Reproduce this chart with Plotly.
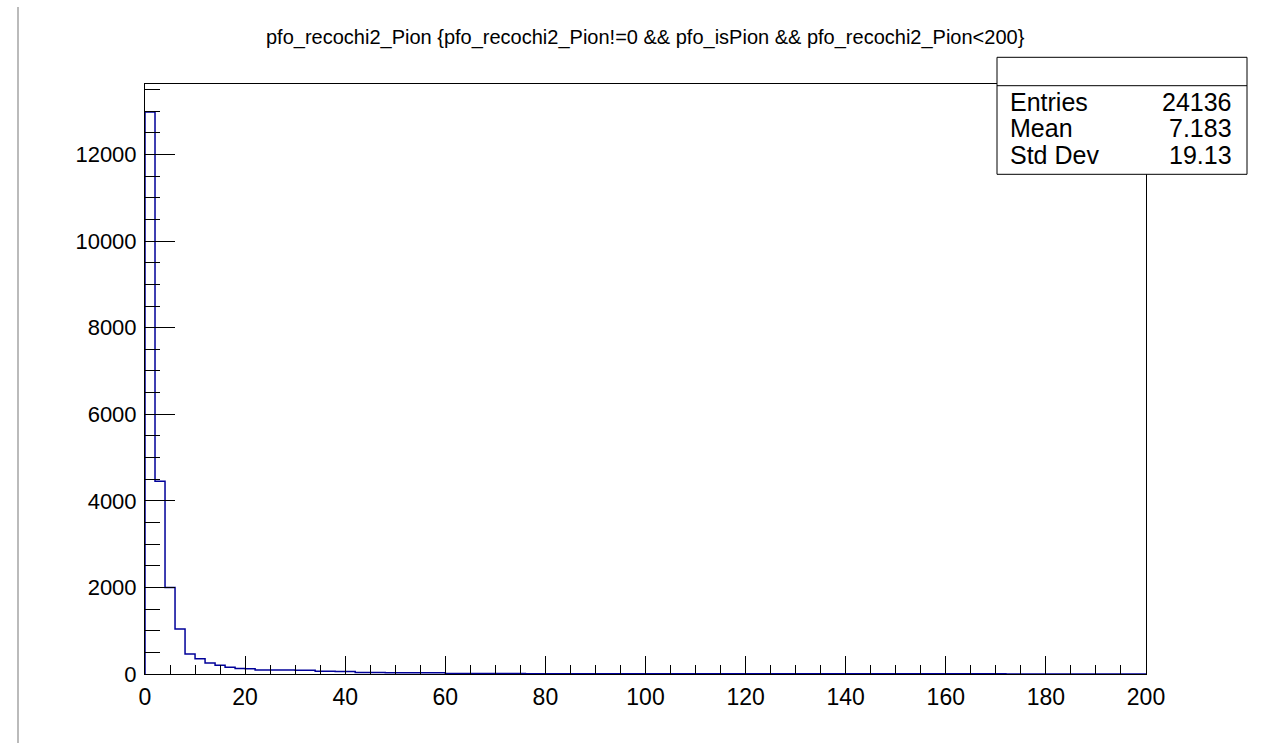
import plotly.graph_objects as go

# ---------------- data ----------------
title_text = "pfo_recochi2_Pion {pfo_recochi2_Pion!=0 &amp;&amp; pfo_isPion &amp;&amp; pfo_recochi2_Pion&lt;200}"
x_min, x_max, n_bins = 0, 200, 100
counts = [
    12980, 4450, 2000, 1040, 460, 355, 255, 205, 155, 125,
    120, 95, 92, 90, 90, 88, 88, 65, 62, 60,
    60, 35, 32, 32, 30, 30, 30, 28, 28, 28,
    10, 10, 10, 9, 9, 9, 9, 9, 8, 8,
    8, 8, 8, 7, 7, 7, 7, 7, 7, 6,
    6, 6, 6, 6, 6, 6, 5, 5, 5, 5,
    5, 5, 5, 5, 4, 4, 4, 4, 4, 4,
    4, 4, 4, 4, 3, 3, 3, 3, 3, 3,
    3, 3, 3, 3, 3, 3, 2, 2, 2, 2,
    2, 2, 2, 2, 2, 2, 2, 2, 2, 2,
]
stats_labels = ["Entries", "Mean", "Std Dev"]
stats_values = ["24136", "7.183", "19.13"]
x_tick_vals = [0, 20, 40, 60, 80, 100, 120, 140, 160, 180, 200]
x_tick_text = ["0", "20", "40", "60", "80", "100", "120", "140", "160", "180", "200"]
y_tick_vals = [0, 2000, 4000, 6000, 8000, 10000, 12000]
y_tick_text = ["0", "2000", "4000", "6000", "8000", "10000", "12000"]

# ---------------- build step outline ----------------
width = (x_max - x_min) / n_bins
edges = [x_min + i * width for i in range(n_bins + 1)]
xs = [edges[0]] + edges[:-1] + [edges[-1], edges[-1]]
ys = [0] + counts + [counts[-1], 0]

y_top = max(counts) * 1.05

FONT = "Liberation Sans, Arial, Helvetica, sans-serif"

fig = go.Figure()
fig.add_trace(go.Scatter(
    x=xs, y=ys, mode="lines", line=dict(color="#000099", width=1.5, shape="hv"),
    hoverinfo="skip", showlegend=False,
))

# plot area pixel geometry
L, R, T, B = 145, 1146, 84, 674
W, H = R - L, B - T


def px(xp):
    return (xp - L) / W


def py(yp):
    return (B - yp) / H


fig.update_layout(
    width=1267, height=743,
    margin=dict(l=L, r=1267 - R, t=T, b=743 - B),
    paper_bgcolor="white", plot_bgcolor="white",
    font=dict(family=FONT, color="black"),
    showlegend=False,
    xaxis=dict(
        range=[x_min, x_max], showgrid=False, zeroline=False,
        showline=True, linecolor="black", linewidth=1, mirror=True,
        ticks="inside", ticklen=18, tickcolor="black", tickwidth=1,
        tickvals=x_tick_vals, ticktext=x_tick_text, tickfont=dict(size=23, family=FONT),
        minor=dict(dtick=5, tick0=0, ticks="inside", ticklen=9, tickcolor="black", showgrid=False),
        ticklabelstandoff=2,
    ),
    yaxis=dict(
        range=[0, y_top], showgrid=False, zeroline=False,
        showline=True, linecolor="black", linewidth=1, mirror=True,
        ticks="inside", ticklen=30, tickcolor="black", tickwidth=1,
        tickvals=y_tick_vals, ticktext=y_tick_text, tickfont=dict(size=22, family=FONT),
        minor=dict(dtick=500, tick0=0, ticks="inside", ticklen=15, tickcolor="black", showgrid=False),
        ticklabelstandoff=3,
    ),
)

shapes = []
# stats box
shapes.append(dict(type="rect", xref="paper", yref="paper",
                   x0=px(997), x1=px(1247), y0=py(174.3), y1=py(57.3),
                   line=dict(color="black", width=1), fillcolor="white", layer="above"))
shapes.append(dict(type="line", xref="paper", yref="paper",
                   x0=px(997), x1=px(1247), y0=py(85.7), y1=py(85.7),
                   line=dict(color="black", width=1), layer="above"))
# grey line at the left edge of the page
shapes.append(dict(type="line", xref="paper", yref="paper",
                   x0=px(18), x1=px(18), y0=py(7), y1=py(743),
                   line=dict(color="#bbbbbb", width=2)))
fig.update_layout(shapes=shapes)

annotations = []
row_y = [102, 128, 155]
for lab, val, ry in zip(stats_labels, stats_values, row_y):
    annotations.append(dict(xref="paper", yref="paper", x=px(1008), y=py(ry),
                            text=lab, showarrow=False, xanchor="left", yanchor="middle",
                            font=dict(size=25, family=FONT, color="black")))
    annotations.append(dict(xref="paper", yref="paper", x=px(1234), y=py(ry),
                            text=val, showarrow=False, xanchor="right", yanchor="middle",
                            font=dict(size=25, family=FONT, color="black")))
annotations.append(dict(xref="paper", yref="paper", x=px(645), y=py(38),
                        text=title_text, showarrow=False, xanchor="center", yanchor="middle",
                        font=dict(size=20, family=FONT, color="black")))
fig.update_layout(annotations=annotations)

fig.write_html("out.html")
